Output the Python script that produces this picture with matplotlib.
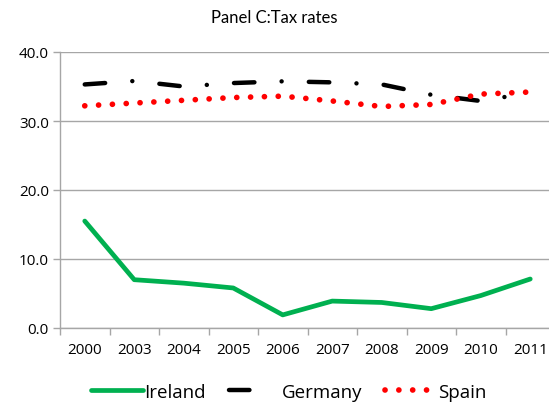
import numpy as np
import matplotlib
matplotlib.use("Agg")
import matplotlib.pyplot as plt
from matplotlib.lines import Line2D

years = ["2000", "2003", "2004", "2005", "2006", "2007", "2008", "2009", "2010", "2011"]
ireland = [15.5, 7.0, 6.5, 5.8, 1.9, 3.9, 3.7, 2.8, 4.7, 7.1]
germany = [35.3, 35.8, 35.0, 35.5, 35.75, 35.6, 35.3, 33.8, 32.9, 34.1]
spain = [32.2, 32.6, 33.0, 33.4, 33.6, 32.9, 32.1, 32.4, 33.9, 34.2]

grid_col = "#a6a6a6"
ire_style = dict(color="#00b050", lw=3.4, solid_capstyle="round", solid_joinstyle="round")
ger_style = dict(color="black", lw=3.2, dash_capstyle="round", dashes=(4.6, 6.12, 0.01, 6.12))
spa_style = dict(color="red", lw=4.1, dash_capstyle="round", dashes=(0.01, 2.42))

fig = plt.figure(figsize=(5.49, 4.06), dpi=100)
# plot area: left 60px, right ~555px (slightly past the edge), top 53px, bottom 329px
ax = fig.add_axes([60 / 549, 1 - 329 / 406, 495 / 549, 276 / 406])

x = np.arange(len(years))
ax.plot(x, ireland, label="Ireland", **ire_style)
ax.plot(x, germany, label="Germany", **ger_style)
ax.plot(x, spain, label="Spain", **spa_style)

ax.set_xlim(-0.5, len(years) - 0.5)
ax.set_ylim(0, 40)
ax.set_yticks(np.arange(0, 41, 10))
ax.set_yticklabels([f"{v:.1f}" for v in np.arange(0, 41, 10)])
ax.yaxis.grid(True, color=grid_col, lw=1.0)
ax.set_axisbelow(True)

ax.set_xticks(x)
ax.set_xticklabels(years)
ax.set_xticks(np.arange(-0.5, len(years), 1), minor=True)
ax.tick_params(axis="x", which="major", length=0, pad=10, labelsize=11)
ax.tick_params(axis="x", which="minor", length=5, color=grid_col, width=1)
ax.tick_params(axis="y", length=5, color=grid_col, width=1, labelsize=11, pad=3)

for lab in ax.get_xticklabels() + ax.get_yticklabels():
    lab.set_fontfamily("Open Sans")

for s in ["top", "right"]:
    ax.spines[s].set_visible(False)
for s in ["left", "bottom"]:
    ax.spines[s].set_color(grid_col)
    ax.spines[s].set_linewidth(1.0)

fig.text(0.5, 1 - 18 / 406, "Panel C:Tax rates", ha="center", va="center",
         fontsize=12, fontfamily="Lato")

# legend sample for Germany shows just one dash
ger_leg = dict(ger_style, dashes=(4.6, 20))
handles = [Line2D([], [], **ire_style), Line2D([], [], **ger_leg), Line2D([], [], **spa_style)]
leg = fig.legend(handles, ["Ireland", "Germany", "Spain"], loc="center",
                 bbox_to_anchor=(289 / 549, 1 - 393 / 406), ncol=3, frameon=False,
                 prop={"family": "Open Sans", "size": 13.5}, handlelength=2.77,
                 handletextpad=0.05, columnspacing=1.23)

fig.savefig("out.png", dpi=100)
